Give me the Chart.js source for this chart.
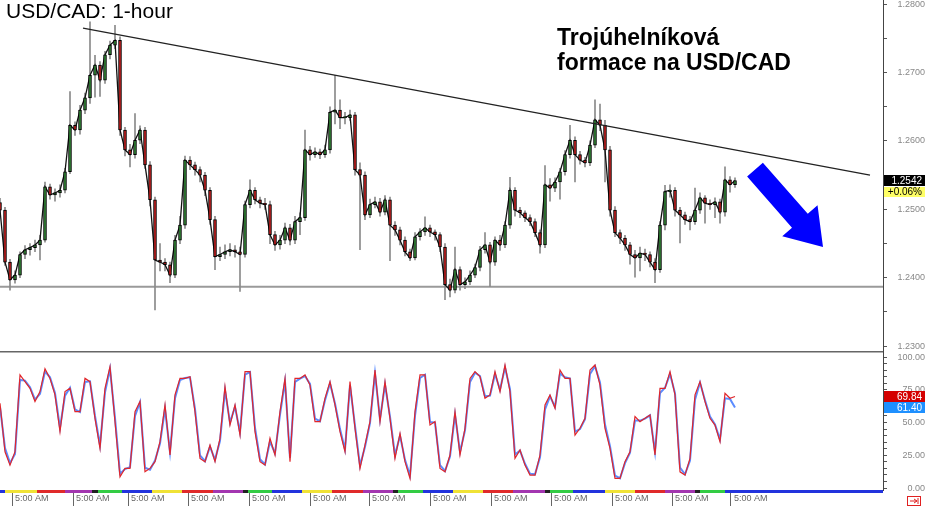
<!DOCTYPE html>
<html>
<head>
<meta charset="utf-8">
<title>USD/CAD 1-hour</title>
<script src="https://cdn.jsdelivr.net/npm/chart.js@4.4.1/dist/chart.umd.min.js"></script>
<style>
  html, body { margin: 0; padding: 0; background: #fff; }
  #wrap { position: relative; width: 925px; height: 506px; overflow: hidden; }
  #top { position: absolute; left: 0; top: 0; width: 925px; height: 351px; }
  #bot { position: absolute; left: 0; top: 351px; width: 925px; height: 155px; }
</style>
</head>
<body>
<div id="wrap">
  <div id="top"><canvas id="priceChart" width="925" height="351"></canvas></div>
  <div id="bot"><canvas id="stochChart" width="925" height="155"></canvas></div>
</div>
<script>
// hourly candles
const opens = [1.2510,1.2499,1.2423,1.2397,1.2404,1.2434,1.2441,1.2444,1.2448,1.2455,
  1.2533,1.2521,1.2524,1.2528,1.2555,1.2623,1.2616,1.2645,1.2663,1.2696,
  1.2711,1.2689,1.2726,1.2740,1.2747,1.2616,1.2587,1.2580,1.2601,1.2616,
  1.2565,1.2514,1.2426,1.2423,1.2419,1.2404,1.2455,1.2477,1.2572,1.2565,
  1.2558,1.2550,1.2528,1.2485,1.2431,1.2434,1.2438,1.2441,1.2438,1.2434,
  1.2507,1.2528,1.2514,1.2509,1.2507,1.2463,1.2448,1.2455,1.2473,1.2455,
  1.2482,1.2488,1.2587,1.2580,1.2584,1.2580,1.2587,1.2642,1.2645,1.2634,
  1.2634,1.2638,1.2558,1.2550,1.2492,1.2507,1.2511,1.2496,1.2514,1.2477,
  1.2470,1.2455,1.2438,1.2429,1.2460,1.2467,1.2473,1.2467,1.2463,1.2445,
  1.2390,1.2382,1.2412,1.2390,1.2394,1.2404,1.2415,1.2441,1.2448,1.2423,
  1.2455,1.2448,1.2477,1.2528,1.2499,1.2495,1.2488,1.2482,1.2466,1.2448,
  1.2536,1.2531,1.2540,1.2555,1.2580,1.2601,1.2580,1.2572,1.2568,1.2594,
  1.2631,1.2623,1.2587,1.2499,1.2466,1.2458,1.2448,1.2434,1.2429,1.2436,
  1.2434,1.2423,1.2412,1.2477,1.2526,1.2528,1.2499,1.2492,1.2485,1.2482,
  1.2499,1.2517,1.2509,1.2507,1.2511,1.2496,1.2543,1.2536];
const highs = [1.2516,1.2503,1.2427,1.2410,1.2438,1.2447,1.2450,1.2455,1.2462,1.2540,
  1.2537,1.2530,1.2536,1.2560,1.2672,1.2628,1.2652,1.2670,1.2774,1.2725,
  1.2716,1.2731,1.2746,1.2769,1.2752,1.2620,1.2595,1.2640,1.2622,1.2620,
  1.2570,1.2518,1.2450,1.2428,1.2423,1.2462,1.2490,1.2578,1.2577,1.2569,
  1.2562,1.2554,1.2532,1.2490,1.2445,1.2448,1.2450,1.2447,1.2445,1.2512,
  1.2543,1.2532,1.2518,1.2516,1.2512,1.2468,1.2462,1.2480,1.2478,1.2490,
  1.2495,1.2616,1.2592,1.2590,1.2588,1.2594,1.2650,1.2696,1.2660,1.2642,
  1.2645,1.2642,1.2568,1.2555,1.2515,1.2518,1.2516,1.2520,1.2518,1.2482,
  1.2474,1.2460,1.2442,1.2466,1.2472,1.2489,1.2477,1.2470,1.2466,1.2450,
  1.2398,1.2445,1.2416,1.2400,1.2410,1.2420,1.2446,1.2466,1.2452,1.2460,
  1.2462,1.2482,1.2547,1.2532,1.2503,1.2498,1.2492,1.2486,1.2470,1.2564,
  1.2545,1.2546,1.2560,1.2586,1.2623,1.2606,1.2585,1.2576,1.2600,1.2660,
  1.2654,1.2630,1.2592,1.2504,1.2470,1.2462,1.2452,1.2440,1.2445,1.2442,
  1.2438,1.2428,1.2482,1.2535,1.2536,1.2532,1.2503,1.2496,1.2490,1.2531,
  1.2524,1.2520,1.2514,1.2517,1.2515,1.2562,1.2548,1.2546];
const lows = [1.2492,1.2418,1.2382,1.2392,1.2400,1.2428,1.2433,1.2438,1.2426,1.2452,
  1.2515,1.2512,1.2518,1.2524,1.2552,1.2608,1.2610,1.2640,1.2655,1.2664,
  1.2665,1.2684,1.2720,1.2735,1.2608,1.2578,1.2562,1.2575,1.2596,1.2560,
  1.2505,1.2353,1.2410,1.2410,1.2393,1.2400,1.2450,1.2472,1.2558,1.2550,
  1.2540,1.2520,1.2478,1.2412,1.2425,1.2428,1.2432,1.2430,1.2380,1.2430,
  1.2502,1.2508,1.2502,1.2500,1.2450,1.2440,1.2442,1.2450,1.2448,1.2450,
  1.2463,1.2484,1.2572,1.2576,1.2574,1.2576,1.2582,1.2625,1.2618,1.2625,
  1.2630,1.2550,1.2441,1.2485,1.2488,1.2502,1.2490,1.2492,1.2425,1.2462,
  1.2448,1.2432,1.2425,1.2426,1.2455,1.2462,1.2460,1.2455,1.2438,1.2368,
  1.2372,1.2378,1.2382,1.2384,1.2390,1.2400,1.2410,1.2436,1.2387,1.2418,
  1.2440,1.2444,1.2472,1.2490,1.2488,1.2482,1.2476,1.2460,1.2436,1.2444,
  1.2512,1.2526,1.2515,1.2550,1.2575,1.2540,1.2566,1.2562,1.2564,1.2590,
  1.2615,1.2540,1.2490,1.2460,1.2450,1.2440,1.2420,1.2401,1.2410,1.2425,
  1.2416,1.2393,1.2408,1.2470,1.2518,1.2490,1.2451,1.2478,1.2470,1.2478,
  1.2494,1.2480,1.2500,1.2488,1.2480,1.2490,1.2525,1.2532];
const closes = [1.2499,1.2423,1.2397,1.2404,1.2434,1.2441,1.2444,1.2448,1.2455,1.2533,
  1.2521,1.2524,1.2528,1.2555,1.2623,1.2616,1.2645,1.2663,1.2696,1.2711,
  1.2689,1.2726,1.2740,1.2747,1.2616,1.2587,1.2580,1.2601,1.2616,1.2565,
  1.2514,1.2426,1.2423,1.2419,1.2404,1.2455,1.2477,1.2572,1.2565,1.2558,
  1.2550,1.2528,1.2485,1.2431,1.2434,1.2438,1.2441,1.2438,1.2434,1.2507,
  1.2528,1.2514,1.2509,1.2507,1.2463,1.2448,1.2455,1.2473,1.2455,1.2482,
  1.2488,1.2587,1.2580,1.2584,1.2580,1.2587,1.2642,1.2645,1.2634,1.2634,
  1.2638,1.2558,1.2550,1.2492,1.2507,1.2511,1.2496,1.2514,1.2477,1.2470,
  1.2455,1.2438,1.2429,1.2460,1.2467,1.2473,1.2467,1.2463,1.2445,1.2390,
  1.2382,1.2412,1.2390,1.2394,1.2404,1.2415,1.2441,1.2448,1.2423,1.2455,
  1.2448,1.2477,1.2528,1.2499,1.2495,1.2488,1.2482,1.2466,1.2448,1.2536,
  1.2531,1.2540,1.2555,1.2580,1.2601,1.2580,1.2572,1.2568,1.2594,1.2631,
  1.2623,1.2587,1.2499,1.2466,1.2458,1.2448,1.2434,1.2429,1.2436,1.2434,
  1.2423,1.2412,1.2477,1.2526,1.2528,1.2499,1.2492,1.2485,1.2482,1.2499,
  1.2517,1.2509,1.2507,1.2511,1.2496,1.2543,1.2536,1.2542];

// stochastic oscillator
const stochK = [64.7,27.7,17.5,27.7,86.3,81.2,76.1,66.0,73.6,91.1,
  83.7,71.1,43.0,73.6,76.1,58.3,58.3,83.7,81.2,53.2,
  30.3,76.1,92.6,50.7,8.6,15.0,15.0,58.3,66.0,12.4,
  15.0,20.1,35.4,63.4,25.2,71.1,83.7,83.7,85.0,58.3,
  22.6,20.1,32.8,20.1,37.9,77.4,48.1,63.4,40.4,88.8,
  88.8,43.0,20.1,17.5,37.9,25.2,58.3,83.7,20.1,83.7,
  83.7,86.3,78.6,50.7,50.7,68.5,81.2,63.4,43.0,27.7,
  81.2,45.6,15.0,32.8,50.7,90.1,50.7,81.2,53.2,22.6,
  41.7,20.1,7.3,58.3,86.3,86.3,48.1,50.7,15.0,12.4,
  25.2,58.3,25.2,45.6,83.7,88.8,85.0,68.5,71.1,88.8,
  73.6,93.9,73.6,22.6,29.0,17.5,9.9,9.9,25.2,63.4,
  71.1,60.9,90.1,83.7,83.7,40.4,45.6,53.2,90.1,93.9,
  78.6,45.6,30.3,7.3,7.3,20.1,27.7,54.5,50.7,53.2,
  55.8,25.2,76.1,76.1,88.8,71.1,12.4,9.9,22.6,71.1,
  81.2,66.0,53.2,48.1,35.4,72.3,68.5,69.84];
const stochD = [62.0,30.5,19.0,26.0,82.5,82.0,77.0,67.5,72.0,89.0,
  84.5,72.5,46.0,70.5,76.5,60.0,58.0,81.0,81.5,55.0,
  32.5,73.0,91.0,53.5,11.0,14.5,16.0,55.0,65.5,15.5,
  14.0,21.0,34.0,60.5,27.5,68.5,82.5,84.0,84.5,60.5,
  25.0,20.5,31.5,21.5,36.0,74.5,50.0,62.0,42.5,86.5,
  88.5,46.0,22.0,18.0,35.5,26.5,56.0,81.5,23.0,81.0,
  83.5,85.5,79.5,53.0,51.0,67.0,80.0,64.5,45.0,29.5,
  78.5,47.5,17.0,31.5,49.5,87.5,52.5,79.0,54.5,25.0,
  40.0,21.5,9.5,55.0,84.0,86.5,50.5,50.0,17.5,13.0,
  24.0,56.0,27.5,44.0,81.0,88.0,85.5,70.0,70.5,87.0,
  75.0,92.0,75.5,25.5,28.5,18.5,11.0,10.5,23.5,60.0,
  70.0,62.0,87.5,84.5,83.5,43.0,45.0,52.5,87.0,93.0,
  80.5,48.5,32.0,9.5,7.5,19.0,27.0,51.5,51.5,53.0,
  55.5,27.5,72.5,76.5,87.0,72.5,15.5,10.5,21.0,67.5,
  80.5,67.0,54.5,48.5,37.0,68.5,68.0,61.40];

// time axis (bar index where each label sits)
const timeTickSlots = [2.4, 14.6, 25.6, 37.6, 49.8, 62, 73.8, 86, 98.2, 110.2, 122.4, 134.4, 146.2];
const timeLabel = '5:00 AM';
const sessionBands = [
  [0, 1, '#2233dd'], [1, 7.4, '#f0e236'], [7.4, 13, '#e02a2a'], [13, 18.4, '#a336b0'], [18.4, 19.6, '#222'],
  [19.6, 24.4, '#33cc44'], [24.4, 30.4, '#2233dd'], [30.4, 36.4, '#f0e236'], [36.4, 42.6, '#e02a2a'],
  [42.6, 48.6, '#a336b0'], [48.6, 49.6, '#222'], [49.6, 54.4, '#33cc44'], [54.4, 60.4, '#2233dd'],
  [60.4, 66.4, '#f0e236'], [66.4, 72.6, '#e02a2a'], [72.6, 78.6, '#a336b0'], [78.6, 79.6, '#222'],
  [79.6, 84.6, '#33cc44'], [84.6, 90.6, '#2233dd'], [90.6, 96.6, '#f0e236'], [96.6, 102.6, '#e02a2a'],
  [102.6, 109, '#a336b0'], [109, 110, '#222'], [110, 114.6, '#33cc44'], [114.6, 121, '#2233dd'],
  [121, 127, '#f0e236'], [127, 133, '#e02a2a'], [133, 139, '#a336b0'], [139, 140, '#222'],
  [140, 145, '#33cc44'], [145, 176.6, '#2233dd']
];

// drawn lines and annotations
const resistanceLine = [{ x: 16.6, y: 1.2765 }, { x: 174, y: 1.2550 }];
const supportPrice = 1.2387;
const arrowFrom = { x: 151, y: 1.2558 };
const arrowTo = { x: 164.6, y: 1.2445 };
const lastChange = '+0.06%';

const FONT = '"Liberation Sans", Arial, sans-serif';
const SLOTS_MAX = 176.6;

const idx = closes.map((_, i) => i);
const wickData = idx.map(i => ({ x: i, y: [lows[i], highs[i]] }));
const bodyData = idx.map(i => ({ x: i, y: [opens[i], closes[i]] }));
const closeData = idx.map(i => ({ x: i, y: closes[i] }));
const bodyColors = idx.map(i => closes[i] >= opens[i] ? '#2e7d32' : '#b71c1c');

// keep label overhang from shrinking the plot area
function fixedWidth(w) {
  return s => { s.width = w; s.paddingTop = 0; s.paddingBottom = 0; };
}

function drawArrow(ctx, x0, y0, x1, y1, shaftW, headW, headL) {
  const ang = Math.atan2(y1 - y0, x1 - x0);
  const len = Math.hypot(x1 - x0, y1 - y0);
  ctx.save();
  ctx.translate(x0, y0);
  ctx.rotate(ang);
  ctx.beginPath();
  ctx.moveTo(0, -shaftW / 2);
  ctx.lineTo(len - headL, -shaftW / 2);
  ctx.lineTo(len - headL, -headW / 2);
  ctx.lineTo(len, 0);
  ctx.lineTo(len - headL, headW / 2);
  ctx.lineTo(len - headL, shaftW / 2);
  ctx.lineTo(0, shaftW / 2);
  ctx.closePath();
  ctx.fillStyle = '#0000ff';
  ctx.fill();
  ctx.restore();
}

function badge(ctx, x, yMid, w, h, bg, fg, text) {
  ctx.fillStyle = bg;
  ctx.fillRect(x, Math.round(yMid - h / 2), w, h);
  ctx.fillStyle = fg;
  ctx.font = '10px ' + FONT;
  ctx.textAlign = 'right';
  ctx.textBaseline = 'middle';
  ctx.fillText(text, x + w - 3, yMid + 0.5);
}

const priceDecor = {
  id: 'priceDecor',
  afterDraw(chart) {
    const { ctx, scales: { x, y } } = chart;
    ctx.save();
    drawArrow(ctx, x.getPixelForValue(arrowFrom.x), y.getPixelForValue(arrowFrom.y),
      x.getPixelForValue(arrowTo.x), y.getPixelForValue(arrowTo.y), 21, 47, 35);

    ctx.fillStyle = '#000';
    ctx.textAlign = 'left';
    ctx.textBaseline = 'alphabetic';
    ctx.font = '21px ' + FONT;
    ctx.fillText('USD/CAD: 1-hour', 6, 18);
    ctx.font = 'bold 23px ' + FONT;
    ctx.fillText('Trojúhelníková', 557, 45);
    ctx.fillText('formace na USD/CAD', 557, 70);

    const last = closes[closes.length - 1];
    const py = y.getPixelForValue(last);
    badge(ctx, 884, py, 41, 11, '#000', '#fff', last.toFixed(4));
    badge(ctx, 884, py + 11, 41, 10, '#ffff66', '#000', lastChange);
    ctx.restore();
  }
};

const stochDecor = {
  id: 'stochDecor',
  afterDraw(chart) {
    const { ctx, chartArea, scales: { x, y } } = chart;
    ctx.save();
    ctx.strokeStyle = '#666';
    ctx.lineWidth = 1.5;
    ctx.beginPath();
    ctx.moveTo(0, chartArea.top + 0.75);
    ctx.lineTo(chartArea.right, chartArea.top + 0.75);
    ctx.stroke();

    sessionBands.forEach(([a, b, c]) => {
      const x0 = x.getPixelForValue(a);
      const x1 = x.getPixelForValue(b);
      ctx.fillStyle = c;
      ctx.fillRect(x0, chartArea.bottom, x1 - x0, 3);
    });

    badge(ctx, 884, y.getPixelForValue(stochK[stochK.length - 1]), 41, 11, '#d40000', '#fff',
      stochK[stochK.length - 1].toFixed(2));
    badge(ctx, 884, y.getPixelForValue(stochD[stochD.length - 1]), 41, 11, '#1e90ff', '#fff',
      stochD[stochD.length - 1].toFixed(2));

    // scroll-to-end button
    const bx = 907, by = chartArea.bottom + 6;
    ctx.strokeStyle = '#e02020';
    ctx.lineWidth = 1;
    ctx.strokeRect(bx + 0.5, by + 0.5, 13, 9);
    ctx.beginPath();
    ctx.moveTo(bx + 3, by + 5);
    ctx.lineTo(bx + 10, by + 5);
    ctx.moveTo(bx + 7, by + 3);
    ctx.lineTo(bx + 10, by + 5);
    ctx.lineTo(bx + 7, by + 7);
    ctx.moveTo(bx + 11, by + 2);
    ctx.lineTo(bx + 11, by + 8);
    ctx.stroke();
    ctx.restore();
  }
};

new Chart(document.getElementById('priceChart'), {
  type: 'bar',
  data: {
    datasets: [
      {
        type: 'line', data: resistanceLine, borderColor: '#222', borderWidth: 1.2,
        pointRadius: 0, order: 0
      },
      {
        data: bodyData, backgroundColor: bodyColors, borderColor: '#000', borderWidth: 1,
        borderSkipped: false, barThickness: 3, minBarLength: 1, grouped: false, order: 1
      },
      {
        type: 'line', data: closeData, borderColor: '#111', borderWidth: 1.3,
        pointRadius: 0, tension: 0, order: 2
      },
      {
        data: wickData, backgroundColor: '#8a8a8a', barThickness: 1, grouped: false, order: 3
      },
      {
        type: 'line', data: [{ x: 0, y: supportPrice }, { x: SLOTS_MAX, y: supportPrice }],
        borderColor: '#9a9a9a', borderWidth: 2, pointRadius: 0, order: 4
      }
    ]
  },
  options: {
    responsive: false,
    animation: false,
    events: [],
    layout: { padding: 0 },
    plugins: { legend: { display: false }, tooltip: { enabled: false } },
    scales: {
      x: { type: 'linear', min: 0, max: SLOTS_MAX, offset: false, display: false },
      y: {
        position: 'right',
        min: 1.2293, max: 1.2806,
        afterFit: fixedWidth(42),
        border: { display: true, color: '#444' },
        grid: { drawOnChartArea: false, tickLength: 4, color: '#555' },
        ticks: {
          stepSize: 0.005, includeBounds: false, autoSkip: false, crossAlign: 'far', padding: 2,
          color: '#888', font: { family: FONT, size: 9 },
          callback: v => Math.round(v * 1000) % 10 === 0 ? v.toFixed(4) : ''
        }
      }
    }
  },
  plugins: [priceDecor]
});

new Chart(document.getElementById('stochChart'), {
  type: 'line',
  data: {
    datasets: [
      {
        data: stochK.map((v, i) => ({ x: i, y: v })), borderColor: '#e0262b', borderWidth: 1.2,
        pointRadius: 0, tension: 0
      },
      {
        data: stochD.map((v, i) => ({ x: i, y: v })), borderColor: '#5b8cff', borderWidth: 2,
        pointRadius: 0, tension: 0
      }
    ]
  },
  options: {
    responsive: false,
    animation: false,
    events: [],
    layout: { padding: 0 },
    plugins: { legend: { display: false }, tooltip: { enabled: false } },
    scales: {
      x: {
        type: 'linear', min: 0, max: SLOTS_MAX, offset: false,
        afterFit: s => { s.height = 16; s.paddingLeft = 0; s.paddingRight = 0; },
        afterBuildTicks: s => { s.ticks = timeTickSlots.map(v => ({ value: v })); },
        border: { display: false },
        grid: { drawOnChartArea: false, tickLength: 16, color: '#666' },
        ticks: {
          autoSkip: false, maxRotation: 0, align: 'start', labelOffset: 3, padding: -13,
          color: '#666', font: { family: FONT, size: 9 },
          callback: () => timeLabel
        }
      },
      y: {
        position: 'right',
        min: -1.5, max: 104.6,
        afterFit: fixedWidth(42),
        border: { display: true, color: '#444' },
        grid: { drawOnChartArea: false, tickLength: 4, color: '#555' },
        ticks: {
          stepSize: 5, includeBounds: false, autoSkip: false, crossAlign: 'far', padding: 2,
          color: '#888', font: { family: FONT, size: 9 },
          callback: v => v % 25 === 0 ? v.toFixed(2) : ''
        }
      }
    }
  },
  plugins: [stochDecor]
});
</script>
</body>
</html>
